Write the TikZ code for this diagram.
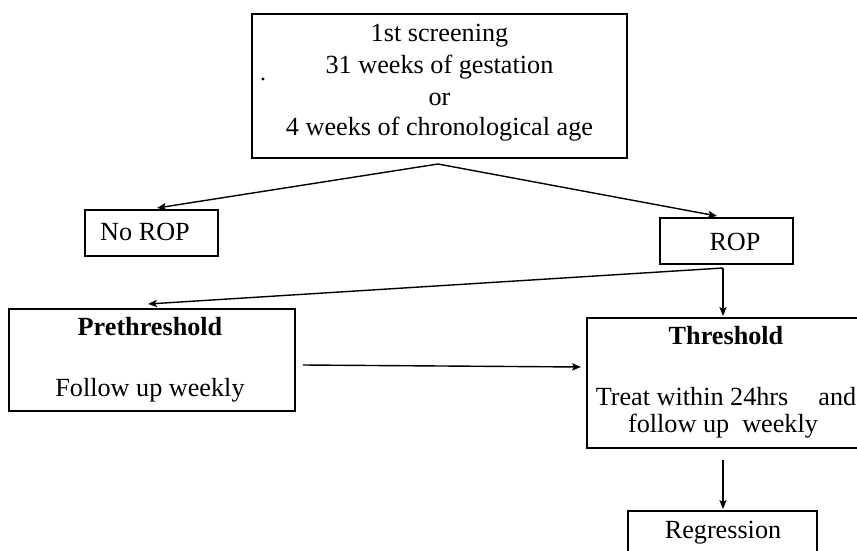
\documentclass[tikz,border=0pt]{standalone}
\usepackage{fontspec}
\setmainfont{Liberation Serif}
\usetikzlibrary{arrows.meta}
\begin{document}
\begin{tikzpicture}[x=0.5pt,y=-0.5pt,
  box/.style={draw=black, line width=0.8pt, rectangle, inner sep=0pt},
  txt/.style={inner sep=0pt, anchor=base, font=\fontsize{13.1}{15.7}\selectfont},
  conn/.style={draw=black, line width=0.7pt},
  arr/.style={conn, -{Stealth[length=4.5pt,width=3.6pt,inset=1pt]}}]
\useasboundingbox (0,0) rectangle (857,551);
\clip (0,0) rectangle (857,551);
% boxes
\node[box, minimum width=187.5pt, minimum height=72pt] (top) at (439.5,86) {};
\node[box, minimum width=66.5pt, minimum height=23pt] (norop) at (151.5,233) {};
\node[box, minimum width=66.5pt, minimum height=23pt] (rop) at (726.5,241) {};
\node[box, minimum width=143pt, minimum height=51pt] (pre) at (152,360) {};
\node[box, minimum width=137.5pt, minimum height=65pt] (thr) at (724.5,383) {};
\node[box, minimum width=94.5pt, minimum height=29.5pt] (reg) at (722.5,540.5) {};
% texts
\node[txt] (t1) at (439.5,42) {1st screening};
\node[txt] (t2) at (439.5,74) {31 weeks of gestation};
\node[txt] (t3) at (439.5,105) {or};
\node[txt] (t4) at (439.5,136) {4 weeks of chronological age};
\node[circle, fill=black, inner sep=0pt, minimum size=1.6pt] (dot) at (263,79) {};
\node[txt] (tn) at (145,240) {No ROP};
\node[txt] (tr) at (735,250) {ROP};
\node[txt, font=\fontsize{13.1}{15.7}\selectfont\bfseries] (tp1) at (150,335) {Prethreshold};
\node[txt] (tp2) at (150,396) {Follow up weekly};
\node[txt, font=\fontsize{13.1}{15.7}\selectfont\bfseries] (th1) at (726,344) {Threshold};
\node[txt] (th2) at (726,405) {Treat within 24hrs\hspace{15pt}and};
\node[txt] (th3) at (723,432) {follow up\ \ weekly};
\node[txt] (tg) at (723,538) {Regression};
% connector points
\coordinate (apex) at (438,164);
\coordinate (noropin) at (157,208);
\coordinate (ropin) at (717,216);
\coordinate (split) at (723,268);
\coordinate (prein) at (148,304);
\coordinate (thrin) at (723,316);
\coordinate (hstart) at (303,365);
\coordinate (hend) at (581,367);
\coordinate (vstart) at (723,460);
\coordinate (vend) at (723,509);
% connectors
\draw[arr] (apex) -- (noropin);
\draw[arr] (apex) -- (ropin);
\draw[arr] (split) -- (prein);
\draw[arr] (split) -- (thrin);
\draw[arr] (hstart) -- (hend);
\draw[arr] (vstart) -- (vend);
\end{tikzpicture}
\end{document}
